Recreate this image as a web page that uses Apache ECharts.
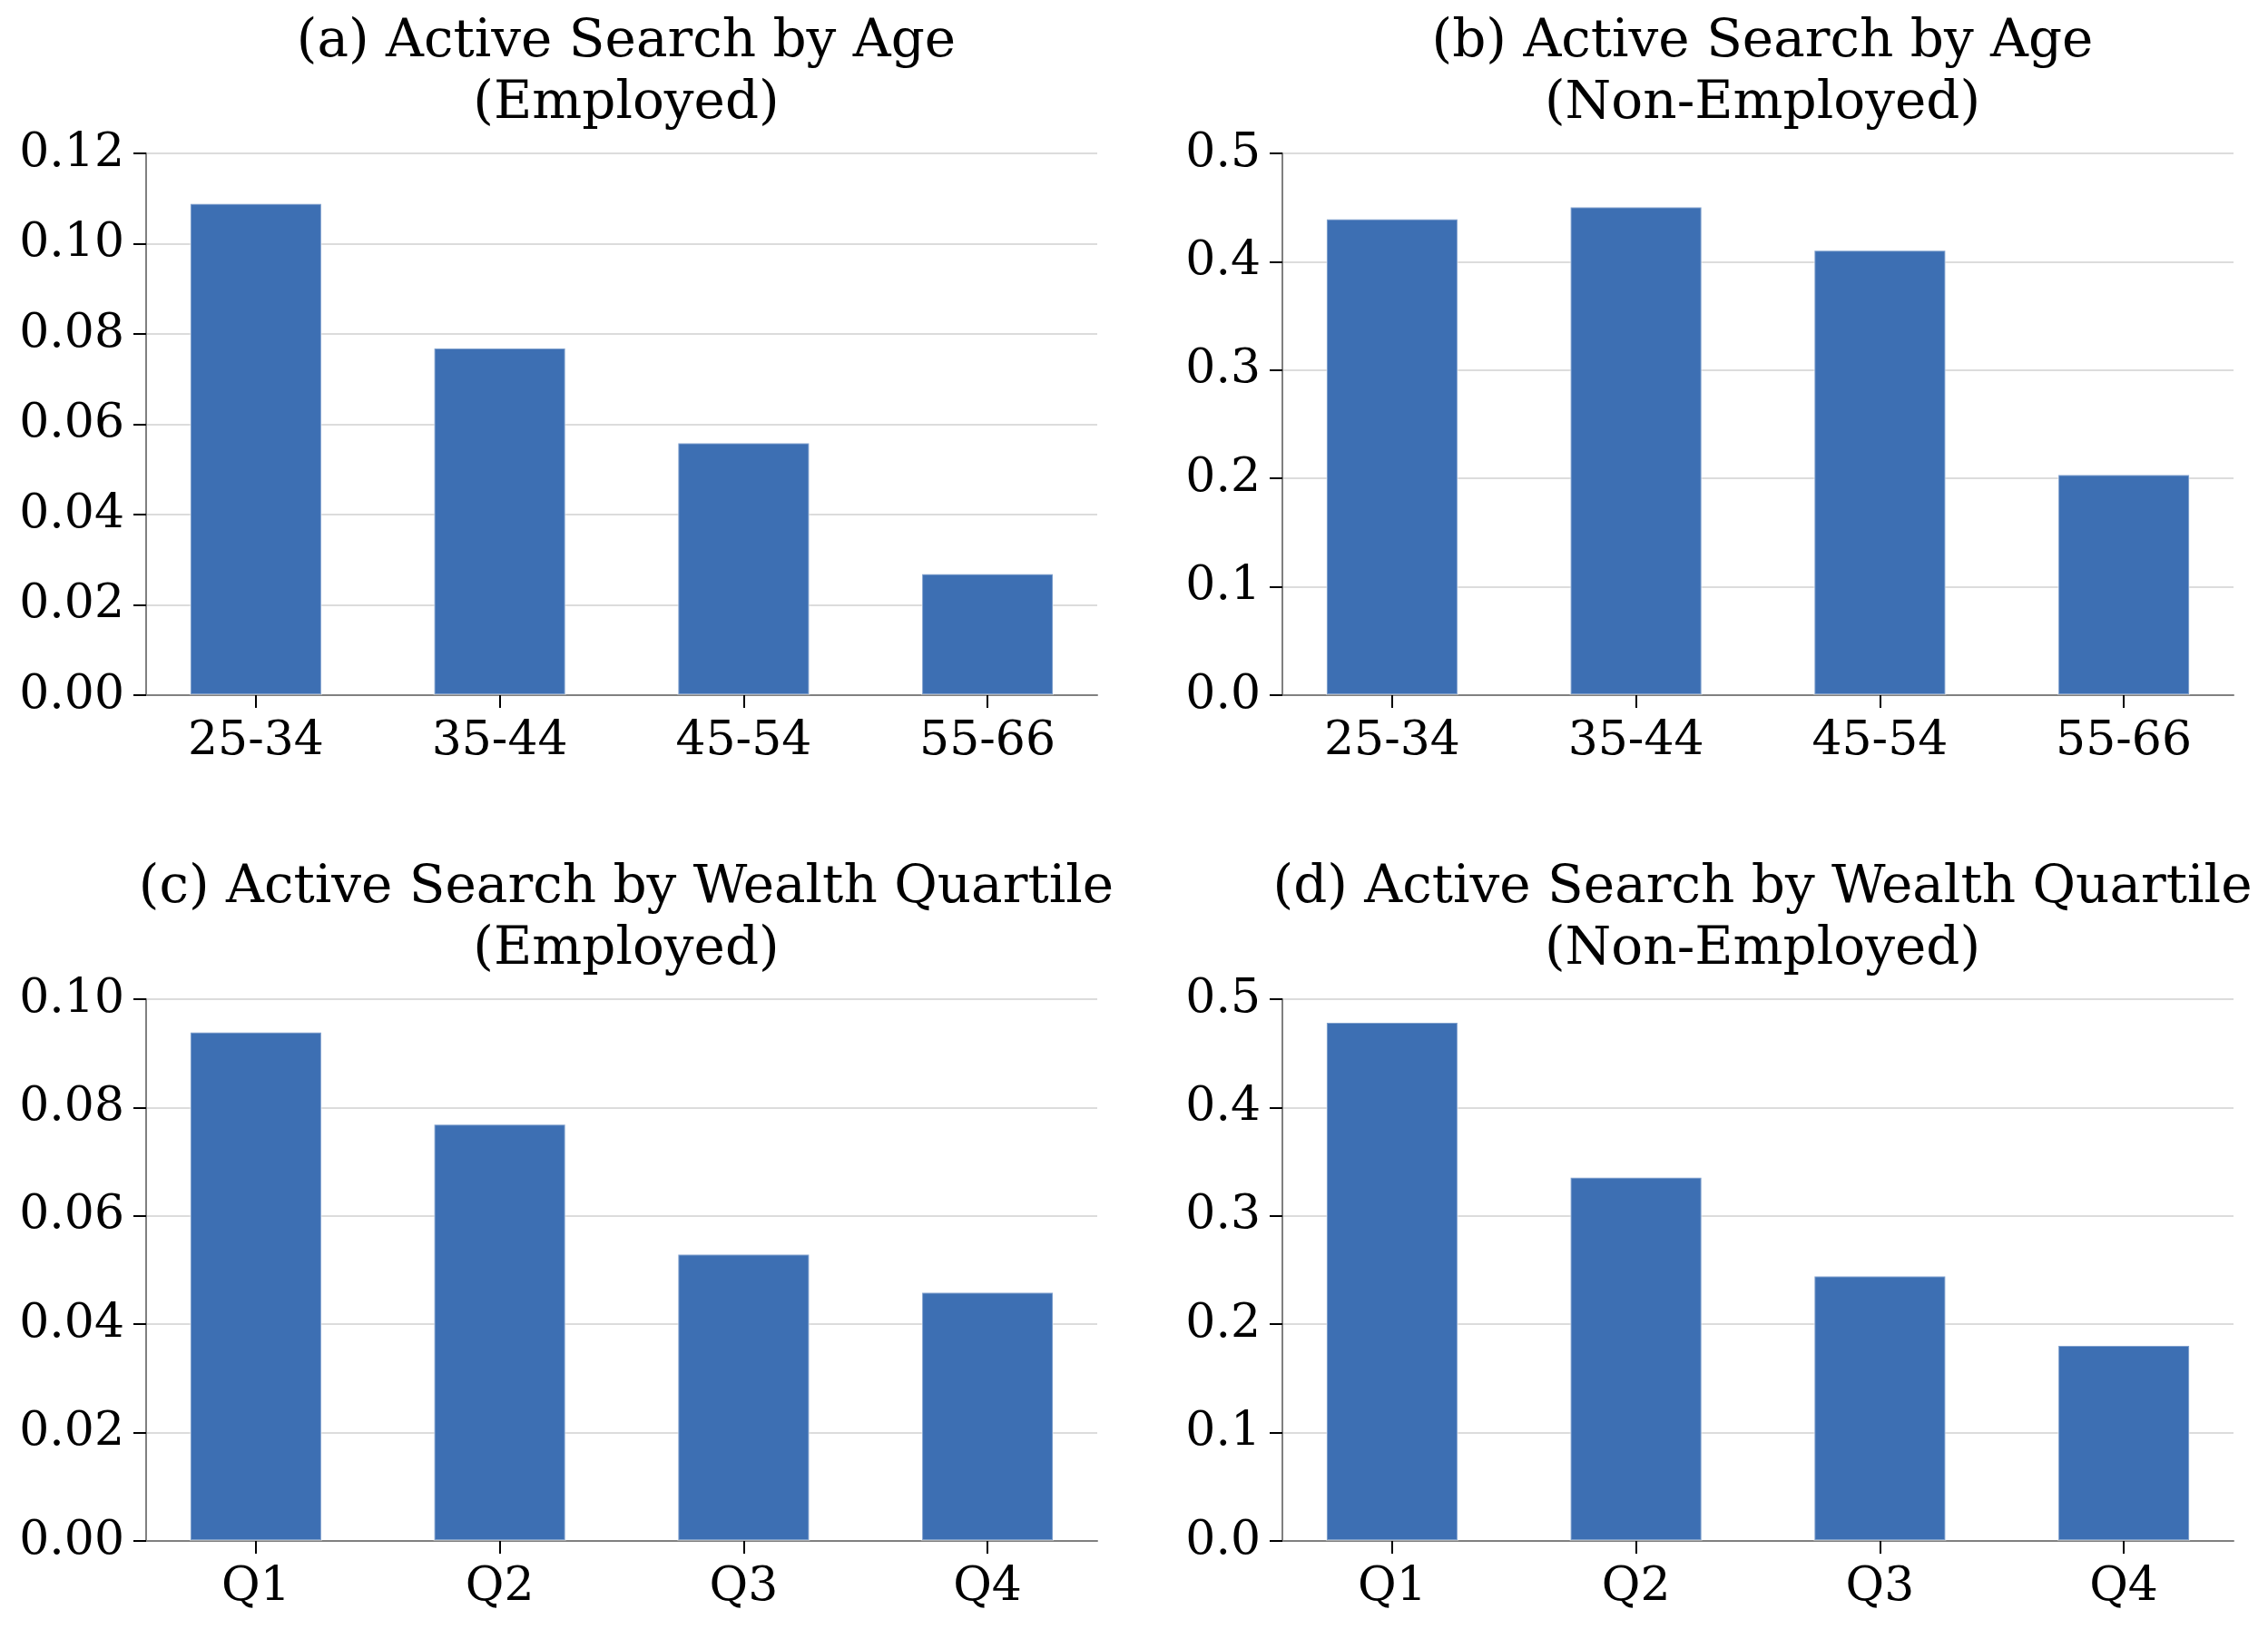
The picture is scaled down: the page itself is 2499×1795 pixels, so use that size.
<!DOCTYPE html>
<html>
<head>
<meta charset="utf-8">
<script src="https://cdn.jsdelivr.net/npm/echarts@6/dist/echarts.min.js"></script>
<style>
html,body{margin:0;padding:0;background:#fff;}
#chart{width:2499px;height:1795px;}
</style>
</head>
<body>
<div id="chart"></div>
<script>
// ---- data ----
const ageCategories = ['25-34', '35-44', '45-54', '55-66'];
const wealthCategories = ['Q1', 'Q2', 'Q3', 'Q4'];

const ageEmployed = [0.109, 0.077, 0.056, 0.027];
const ageNonEmployed = [0.440, 0.451, 0.411, 0.204];
const wealthEmployed = [0.094, 0.077, 0.053, 0.046];
const wealthNonEmployed = [0.479, 0.336, 0.245, 0.181];

const titleA = '(a) Active Search by Age\n(Employed)';
const titleB = '(b) Active Search by Age\n(Non-Employed)';
const titleC = '(c) Active Search by Wealth Quartile\n(Employed)';
const titleD = '(d) Active Search by Wealth Quartile\n(Non-Employed)';

// ---- layout / style ----
const FONT = 'DejaVu Serif';
const BAR = '#3d6fb3';
const panels = [
  {title: titleA, cats: ageCategories,    vals: ageEmployed,       max: 0.12, step: 0.02, dec: 2, left: 161,  top: 169},
  {title: titleB, cats: ageCategories,    vals: ageNonEmployed,    max: 0.5,  step: 0.1,  dec: 1, left: 1413, top: 169},
  {title: titleC, cats: wealthCategories, vals: wealthEmployed,    max: 0.10, step: 0.02, dec: 2, left: 161,  top: 1101},
  {title: titleD, cats: wealthCategories, vals: wealthNonEmployed, max: 0.5,  step: 0.1,  dec: 1, left: 1413, top: 1101}
];
const GW = 1048, GH = 597;

const option = {
  backgroundColor: '#ffffff',
  animation: false,
  title: [], grid: [], xAxis: [], yAxis: [], series: []
};

panels.forEach((p, i) => {
  option.title.push({
    text: p.title,
    left: p.left + GW / 2,
    top: p.top - 161,
    textAlign: 'center',
    textStyle: {fontFamily: FONT, fontSize: 58, fontWeight: 'normal', color: '#000', lineHeight: 68}
  });
  option.grid.push({left: p.left, top: p.top, width: GW, height: GH, containLabel: false});
  const cats = p.cats;
  option.xAxis.push({
    type: 'value', gridIndex: i, min: -0.45, max: 3.45,
    splitLine: {show: false},
    axisLine: {show: true, onZero: false, lineStyle: {color: '#808080', width: 2}},
    axisTick: {show: true, customValues: [0, 1, 2, 3], length: 14, lineStyle: {color: '#000', width: 2}},
    axisLabel: {show: true, customValues: [0, 1, 2, 3], margin: 25,
      formatter: v => cats[Math.round(v)],
      fontFamily: FONT, fontSize: 52, color: '#000'}
  });
  option.yAxis.push({
    type: 'value', gridIndex: i, min: 0, max: p.max, interval: p.step,
    axisLine: {show: true, onZero: false, lineStyle: {color: '#808080', width: 2}},
    axisTick: {show: true, length: 14, lineStyle: {color: '#000', width: 2}},
    splitLine: {show: true, lineStyle: {color: '#dcdcdc', width: 2}},
    axisLabel: {margin: 24, fontFamily: FONT, fontSize: 52, color: '#000',
      formatter: v => v.toFixed(p.dec)}
  });
  option.series.push({
    type: 'bar', xAxisIndex: i, yAxisIndex: i,
    data: p.vals.map((v, k) => [k, v]),
    barWidth: 146,
    itemStyle: {color: BAR, borderColor: 'rgba(255,255,255,0.35)', borderWidth: 2}
  });
});

const chart = echarts.init(document.getElementById('chart'), null, {renderer: 'canvas'});
chart.setOption(option);
</script>
</body>
</html>
